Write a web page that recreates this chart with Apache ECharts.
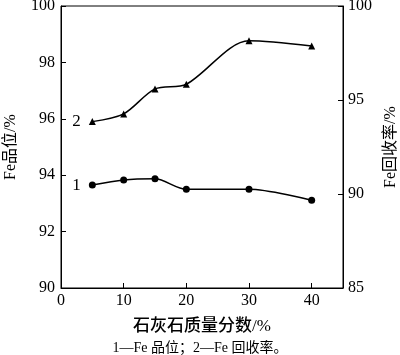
<!DOCTYPE html>
<html><head><meta charset="utf-8">
<script src="https://cdn.jsdelivr.net/npm/echarts@6/dist/echarts.min.js"></script>
<style>html,body{margin:0;padding:0;background:#fff}#c{width:400px;height:355px}</style>
</head><body><div id="c"></div>
<script>
var xValues = [5, 10, 15, 20, 30, 40];
var feGrade = [93.65, 93.83, 93.87, 93.5, 93.5, 93.11];
var feRecovery = [93.85, 94.26, 95.59, 95.84, 98.15, 97.87];
var xTicks = [0, 10, 20, 30, 40];
var leftTicks = [90, 92, 94, 96, 98, 100];
var rightTicks = [85, 90, 95, 100];
var xName = '石灰石质量分数/%';
var leftName = 'Fe品位/%';
var rightName = 'Fe回收率/%';
var caption = '1—Fe 品位；2—Fe 回收率。';
var seriesLabels = ['1', '2'];

var FONT = '"Liberation Serif", "Noto Sans CJK SC", serif';
var chart = echarts.init(document.getElementById('c'), null, {renderer: 'canvas'});
function pairs(ys){ return xValues.map(function(x,i){ return [x, ys[i]]; }); }
var axisCommon = {
  axisLine: {show: true, lineStyle: {color: '#000', width: 1}},
  axisTick: {show: true, inside: true, length: 5, lineStyle: {color: '#000'}},
  splitLine: {show: false},
  axisLabel: {color: '#000', fontFamily: FONT, fontSize: 16},
  nameTextStyle: {color: '#000', fontFamily: FONT, fontSize: 16}
};
function firstLabel(txt){
  return {show: true, position: 'left', distance: 8, formatter: function(p){ return p.dataIndex === 0 ? txt : ''; },
    color: '#000', fontFamily: FONT, fontSize: 17};
}
chart.setOption({
  animation: false,
  grid: {left: 61, right: 57, top: 6, bottom: 67, outerBoundsMode: 'none', containLabel: false,
    show: true, borderColor: '#000', borderWidth: 1, backgroundColor: 'transparent'},
  title: {text: caption, left: 'center', top: 336, textStyle: {color: '#000', fontFamily: FONT, fontSize: 14, fontWeight: 'normal'}},
  xAxis: Object.assign({}, axisCommon, {
    type: 'value', min: xTicks[0], max: 45, interval: 10,
    name: xName, nameLocation: 'middle', nameGap: 30,
    nameTextStyle: {color: '#000', fontFamily: FONT, fontSize: 17, fontWeight: 500},
    axisLabel: {color: '#000', fontFamily: FONT, fontSize: 16, margin: 5,
      formatter: function(v){ return xTicks.indexOf(v) >= 0 ? String(v) : ''; }}
  }),
  yAxis: [
    Object.assign({}, axisCommon, {
      type: 'value', min: leftTicks[0], max: leftTicks[leftTicks.length-1], interval: 2,
      name: leftName, nameLocation: 'middle', nameGap: 42, nameRotate: 90,
      axisLabel: {color: '#000', fontFamily: FONT, fontSize: 16, margin: 6}
    }),
    Object.assign({}, axisCommon, {
      type: 'value', position: 'right', min: rightTicks[0], max: rightTicks[rightTicks.length-1], interval: 5,
      name: rightName, nameLocation: 'middle', nameGap: 38, nameRotate: 90,
      axisLabel: {color: '#000', fontFamily: FONT, fontSize: 16, margin: 5}
    })
  ],
  series: [
    {type: 'line', yAxisIndex: 0, data: pairs(feGrade), smooth: 0.3, symbol: 'circle', symbolSize: 7,
      lineStyle: {color: '#000', width: 1.5}, itemStyle: {color: '#000'}, label: firstLabel(seriesLabels[0])},
    {type: 'line', yAxisIndex: 1, data: pairs(feRecovery), smooth: 0.3, symbol: 'triangle', symbolSize: 7,
      lineStyle: {color: '#000', width: 1.5}, itemStyle: {color: '#000'}, label: firstLabel(seriesLabels[1])}
  ]
});
</script></body></html>
